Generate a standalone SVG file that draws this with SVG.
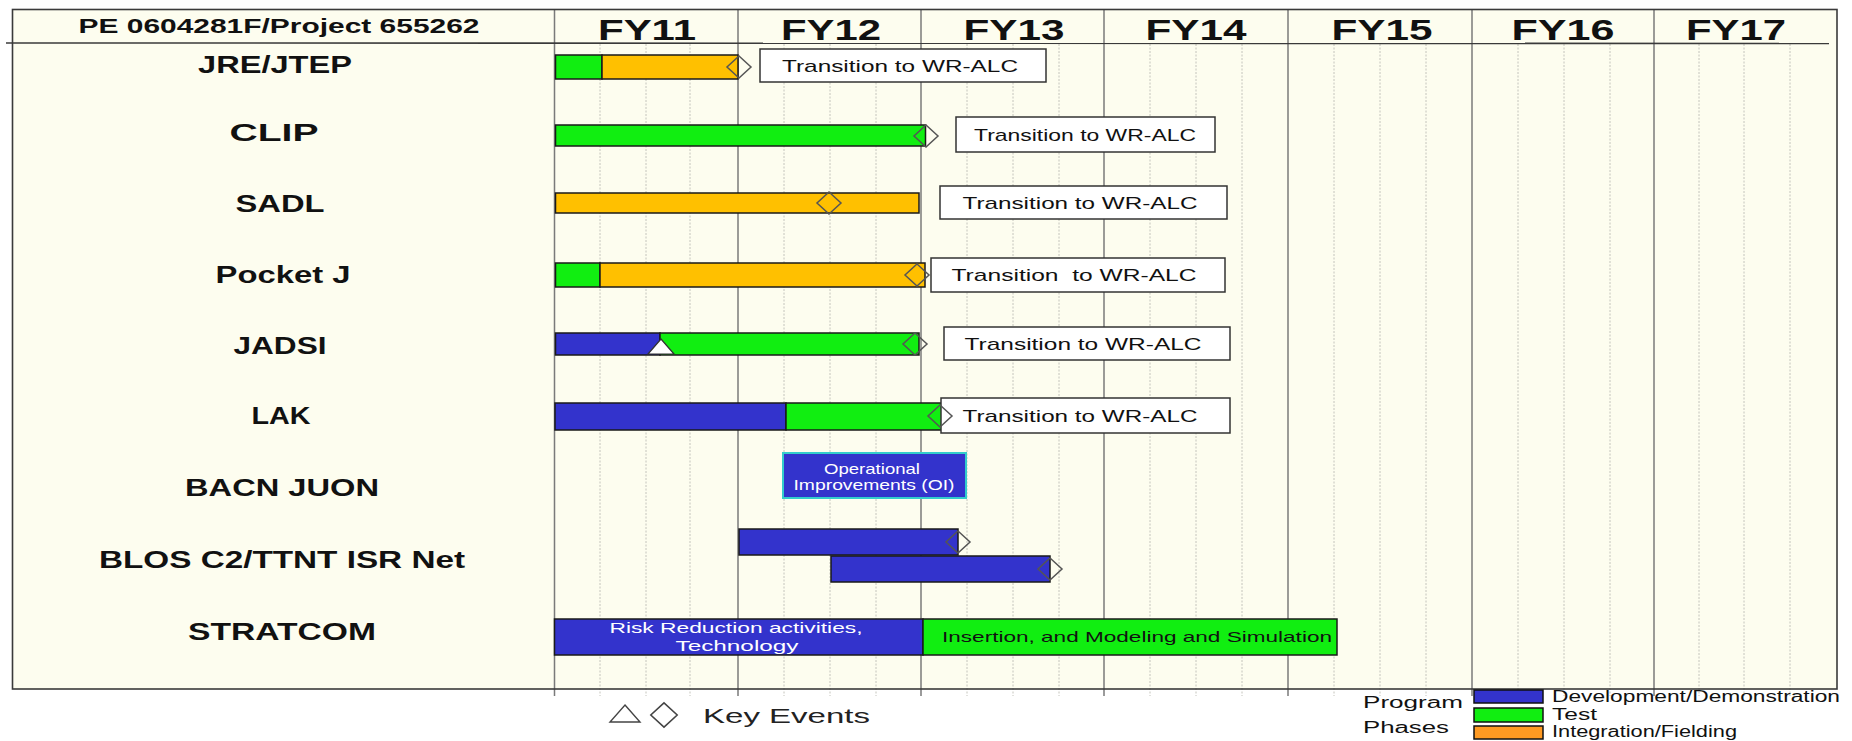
<svg xmlns="http://www.w3.org/2000/svg" width="1852" height="741" viewBox="0 0 1852 741">
  <style>
    text { font-family: "Liberation Sans", Arial, sans-serif; }
    .lbl { font-weight: bold; font-size: 24px; fill: #111; text-anchor: middle; }
    .fy { font-weight: bold; font-size: 30px; fill: #111; text-anchor: middle; }
    .hdr { font-weight: bold; font-size: 21px; fill: #111; text-anchor: middle; }
    .tr { font-size: 17px; fill: #111; text-anchor: middle; }
    .wt { font-size: 15px; fill: #ffffff; text-anchor: middle; }
    .dk { font-size: 15px; fill: #111; text-anchor: middle; }
    .leg { font-size: 16px; fill: #111; }
    .bar { stroke: #1a1a1a; stroke-width: 1.5; }
    .dev { fill: #3333CC; }
    .test { fill: #11EE11; }
    .integ { fill: #FFC000; }
    .box { fill: #ffffff; stroke: #333; stroke-width: 1.5; }
    .ke { fill: none; stroke: #555; stroke-width: 1.5; }
    .major { stroke: #7a7a7a; stroke-width: 1.5; }
    .minor { stroke: #c4c4bc; stroke-width: 1; stroke-dasharray: 2 1.5; }
    .frame { stroke: #3a3a3a; stroke-width: 1.6; fill: none; }
  </style>
  <defs>
    <path id="dia" d="M0,-11 L12,0 L0,11 L-12,0 Z"/>
  </defs>

  <rect x="0" y="0" width="1852" height="741" fill="#ffffff"/>
  <!-- chart body -->
  <rect x="12.5" y="9.5" width="1824.5" height="679.5" fill="#FDFDEF"/>

  <!-- grid -->
  <g id="grid">
    <g class="minor">
      <line x1="600" y1="44" x2="600" y2="696"/><line x1="646" y1="44" x2="646" y2="696"/><line x1="690" y1="44" x2="690" y2="696"/>
      <line x1="784" y1="44" x2="784" y2="696"/><line x1="830" y1="44" x2="830" y2="696"/><line x1="876" y1="44" x2="876" y2="696"/>
      <line x1="967" y1="44" x2="967" y2="696"/><line x1="1013" y1="44" x2="1013" y2="696"/><line x1="1059" y1="44" x2="1059" y2="696"/>
      <line x1="1150" y1="44" x2="1150" y2="696"/><line x1="1196" y1="44" x2="1196" y2="696"/><line x1="1242" y1="44" x2="1242" y2="696"/>
      <line x1="1334" y1="44" x2="1334" y2="696"/><line x1="1380" y1="44" x2="1380" y2="696"/><line x1="1426" y1="44" x2="1426" y2="696"/>
      <line x1="1518" y1="44" x2="1518" y2="696"/><line x1="1564" y1="44" x2="1564" y2="696"/><line x1="1610" y1="44" x2="1610" y2="696"/>
      <line x1="1699" y1="44" x2="1699" y2="696"/><line x1="1744" y1="44" x2="1744" y2="696"/><line x1="1790" y1="44" x2="1790" y2="696"/>
    </g>
    <g class="major">
      <line x1="554.5" y1="9.5" x2="554.5" y2="696"/>
      <line x1="738" y1="9.5" x2="738" y2="696"/>
      <line x1="921" y1="9.5" x2="921" y2="696"/>
      <line x1="1104" y1="9.5" x2="1104" y2="696"/>
      <line x1="1288" y1="9.5" x2="1288" y2="696"/>
      <line x1="1472" y1="9.5" x2="1472" y2="696"/>
      <line x1="1654" y1="9.5" x2="1654" y2="696"/>
    </g>
    <rect class="frame" x="12.5" y="9.5" width="1824.5" height="679.5"/>
    <line class="frame" x1="6" y1="43" x2="1829" y2="43.5"/>
  </g>

  <!-- header -->
  <g id="header">
    <text class="hdr" x="279" y="33" textLength="401" lengthAdjust="spacingAndGlyphs">PE 0604281F/Project 655262</text>
    <text class="fy" x="647" y="40" textLength="98" lengthAdjust="spacingAndGlyphs">FY11</text>
    <text class="fy" x="831" y="40" textLength="100" lengthAdjust="spacingAndGlyphs">FY12</text>
    <text class="fy" x="1014" y="40" textLength="101" lengthAdjust="spacingAndGlyphs">FY13</text>
    <text class="fy" x="1196" y="40" textLength="101" lengthAdjust="spacingAndGlyphs">FY14</text>
    <text class="fy" x="1382" y="40" textLength="101" lengthAdjust="spacingAndGlyphs">FY15</text>
    <text class="fy" x="1563" y="40" textLength="103" lengthAdjust="spacingAndGlyphs">FY16</text>
    <text class="fy" x="1736" y="40" textLength="100" lengthAdjust="spacingAndGlyphs">FY17</text>
  </g>

  <!-- JRE/JTEP -->
  <g id="row-jre">
    <text class="lbl" x="275" y="73" textLength="154" lengthAdjust="spacingAndGlyphs">JRE/JTEP</text>
    <rect class="bar test" x="555.5" y="55" width="46.5" height="24"/>
    <rect class="bar integ" x="602" y="55" width="136" height="24"/>
    <rect class="box" x="760" y="49" width="286" height="33"/>
    <text class="tr" x="900" y="72" textLength="236" lengthAdjust="spacingAndGlyphs">Transition to WR-ALC</text>
    <use href="#dia" class="ke" x="739" y="67"/>
  </g>

  <!-- CLIP -->
  <g id="row-clip">
    <text class="lbl" x="274" y="141" textLength="89" lengthAdjust="spacingAndGlyphs">CLIP</text>
    <rect class="bar test" x="555.5" y="125" width="370" height="21"/>
    <rect class="box" x="956" y="117" width="259" height="35"/>
    <text class="tr" x="1085" y="141" textLength="222" lengthAdjust="spacingAndGlyphs">Transition to WR-ALC</text>
    <use href="#dia" class="ke" x="926" y="136"/>
  </g>

  <!-- SADL -->
  <g id="row-sadl">
    <text class="lbl" x="280" y="212" textLength="89" lengthAdjust="spacingAndGlyphs">SADL</text>
    <rect class="bar integ" x="555.5" y="193" width="363.5" height="20"/>
    <rect class="box" x="940" y="186" width="287" height="33"/>
    <text class="tr" x="1080" y="209" textLength="235" lengthAdjust="spacingAndGlyphs">Transition to WR-ALC</text>
    <use href="#dia" class="ke" x="829" y="203"/>
  </g>

  <!-- Pocket J -->
  <g id="row-pocketj">
    <text class="lbl" x="283" y="283" textLength="135" lengthAdjust="spacingAndGlyphs">Pocket J</text>
    <rect class="bar test" x="555.5" y="263" width="44.5" height="24"/>
    <rect class="bar integ" x="600" y="263" width="325" height="24"/>
    <rect class="box" x="931" y="258" width="294" height="34"/>
    <text class="tr" x="1074" y="281" textLength="245" lengthAdjust="spacingAndGlyphs" xml:space="preserve">Transition  to WR-ALC</text>
    <use href="#dia" class="ke" x="917" y="275"/>
  </g>

  <!-- JADSI -->
  <g id="row-jadsi">
    <text class="lbl" x="280" y="354" textLength="93" lengthAdjust="spacingAndGlyphs">JADSI</text>
    <rect class="bar dev" x="555.5" y="333" width="104.5" height="22"/>
    <rect class="bar test" x="660" y="333" width="259" height="22"/>
    <polygon points="661,339 674,354 648,354" fill="#ffffff" stroke="#333" stroke-width="1.2"/>
    <rect class="box" x="944" y="327" width="286" height="33"/>
    <text class="tr" x="1083" y="350" textLength="237" lengthAdjust="spacingAndGlyphs">Transition to WR-ALC</text>
    <use href="#dia" class="ke" x="915" y="344"/>
  </g>

  <!-- LAK -->
  <g id="row-lak">
    <text class="lbl" x="281" y="424" textLength="59" lengthAdjust="spacingAndGlyphs">LAK</text>
    <rect class="bar dev" x="555" y="403" width="231" height="27"/>
    <rect class="bar test" x="786" y="403" width="156" height="27"/>
    <rect class="box" x="941" y="398" width="289" height="35"/>
    <text class="tr" x="1080" y="422" textLength="235" lengthAdjust="spacingAndGlyphs">Transition to WR-ALC</text>
    <use href="#dia" class="ke" x="940" y="416"/>
  </g>

  <!-- BACN JUON -->
  <g id="row-bacn">
    <text class="lbl" x="282" y="496" textLength="194" lengthAdjust="spacingAndGlyphs">BACN JUON</text>
    <rect x="783" y="453" width="183" height="45" fill="#3333CC" stroke="#33CCCC" stroke-width="2"/>
    <text class="wt" x="872" y="474" font-size="14" textLength="96" lengthAdjust="spacingAndGlyphs">Operational</text>
    <text class="wt" x="874" y="490" font-size="14" textLength="161" lengthAdjust="spacingAndGlyphs">Improvements (OI)</text>
  </g>

  <!-- BLOS C2/TTNT ISR Net -->
  <g id="row-blos">
    <text class="lbl" x="282" y="568" textLength="366" lengthAdjust="spacingAndGlyphs">BLOS C2/TTNT ISR Net</text>
    <rect class="bar dev" x="739" y="529" width="219" height="26"/>
    <rect class="bar dev" x="831" y="556" width="219" height="26"/>
    <use href="#dia" class="ke" x="958" y="542"/>
    <use href="#dia" class="ke" x="1050" y="569"/>
  </g>

  <!-- STRATCOM -->
  <g id="row-stratcom">
    <text class="lbl" x="282" y="640" textLength="188" lengthAdjust="spacingAndGlyphs">STRATCOM</text>
    <rect class="bar dev" x="554.5" y="619" width="368.5" height="36"/>
    <rect class="bar test" x="923" y="619" width="414" height="36"/>
    <text class="wt" x="736" y="633" textLength="253" lengthAdjust="spacingAndGlyphs">Risk Reduction activities,</text>
    <text class="wt" x="737" y="651" textLength="123" lengthAdjust="spacingAndGlyphs">Technology</text>
    <text class="dk" x="1137" y="642" textLength="390" lengthAdjust="spacingAndGlyphs">Insertion, and Modeling and Simulation</text>
  </g>

  <!-- key events legend -->
  <g id="legend-events">
    <polygon points="625,705 640,722 610,722" fill="none" stroke="#444" stroke-width="1.4"/>
    <use href="#dia" x="664" y="715" fill="none" stroke="#444" stroke-width="1.4" transform="translate(664 715) scale(1.1) translate(-664 -715)"/>
    <text x="703" y="723" font-size="21" fill="#222" textLength="167" lengthAdjust="spacingAndGlyphs">Key Events</text>
  </g>

  <!-- program phases legend -->
  <g id="legend-phases">
    <text class="leg" x="1363" y="708" font-size="17" textLength="100" lengthAdjust="spacingAndGlyphs">Program</text>
    <text class="leg" x="1363" y="733" font-size="17" textLength="86" lengthAdjust="spacingAndGlyphs">Phases</text>
    <rect x="1474" y="690" width="69" height="13" fill="#3333CC" stroke="#111" stroke-width="1.5"/>
    <rect x="1474" y="708" width="69" height="14" fill="#11EE11" stroke="#111" stroke-width="1.5"/>
    <rect x="1474" y="726" width="69" height="13" fill="#FF9A22" stroke="#111" stroke-width="1.5"/>
    <text class="leg" x="1552" y="702" textLength="288" lengthAdjust="spacingAndGlyphs">Development/Demonstration</text>
    <text class="leg" x="1552" y="720" textLength="45" lengthAdjust="spacingAndGlyphs">Test</text>
    <text class="leg" x="1552" y="737" textLength="185" lengthAdjust="spacingAndGlyphs">Integration/Fielding</text>
  </g>
</svg>
